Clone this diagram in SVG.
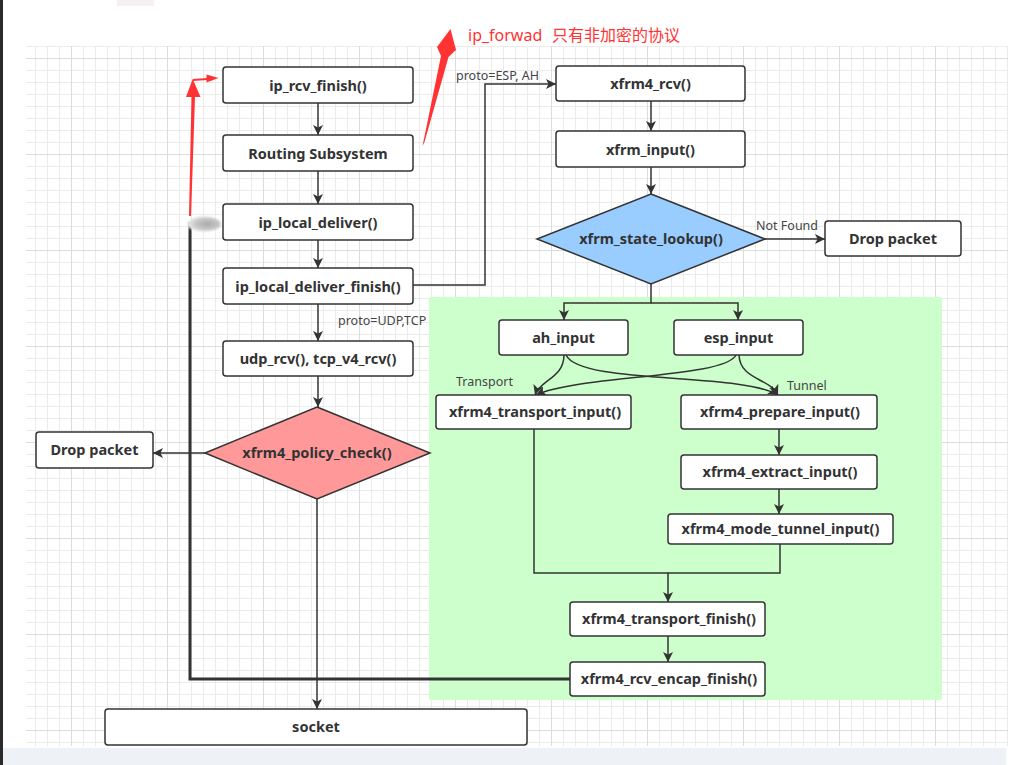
<svg xmlns="http://www.w3.org/2000/svg" width="1015" height="765" viewBox="0 0 1015 765">
<defs>
<style>
.box{fill:#fff;stroke:#333;stroke-width:1.5}
.t{font-family:"Noto Sans","Open Sans",sans-serif;font-weight:bold;font-size:14.5px;fill:#333;text-anchor:middle}
.lbl{font-family:"Noto Sans","Open Sans",sans-serif;font-size:12.5px;fill:#444}
.c{fill:none;stroke:#333;stroke-width:1.5}
.thick{fill:none;stroke:#333;stroke-width:3}
.red{fill:#ff3333}
</style>
<marker id="ah" viewBox="0 0 10 10" refX="10" refY="5" markerWidth="10" markerHeight="10" markerUnits="userSpaceOnUse" orient="auto">
<path d="M0,0 L10,5 L0,10 L2.5,5 Z" fill="#333"/>
</marker>
<pattern id="grid" x="71" y="58" width="96" height="96" patternUnits="userSpaceOnUse">
<path d="M12.5,0V96M24.5,0V96M36.5,0V96M48.5,0V96M60.5,0V96M72.5,0V96M84.5,0V96M0,12.5H96M0,24.5H96M0,36.5H96M0,48.5H96M0,60.5H96M0,72.5H96M0,84.5H96" stroke="#ebebeb" stroke-width="1" fill="none"/>
<path d="M0.5,0V96M0,0.5H96" stroke="#dcdcdc" stroke-width="1" fill="none"/>
</pattern>
<radialGradient id="blob" cx="0.6" cy="0.5" r="0.6">
<stop offset="0" stop-color="#a8a8a8"/>
<stop offset="0.6" stop-color="#c8c8c8"/>
<stop offset="1" stop-color="#eeeeee"/>
</radialGradient>
<filter id="blur" x="-30%" y="-50%" width="160%" height="200%"><feGaussianBlur stdDeviation="1.2"/></filter>
</defs>

<rect width="1015" height="765" fill="#fff"/>
<rect x="26" y="46" width="982" height="700" fill="url(#grid)"/>
<rect x="0" y="748" width="1006" height="17" fill="#eef2f7"/>
<rect x="0" y="0" width="3" height="765" fill="#2b2b2b"/>
<rect x="117" y="0" width="37" height="6" fill="#f6f0f0"/>

<rect id="green-region" x="429" y="297" width="513" height="403" rx="2" fill="#ccffcc"/>

<g id="connectors">
<path class="c" d="M318,103V135" marker-end="url(#ah)"/>
<path class="c" d="M318,171V204" marker-end="url(#ah)"/>
<path class="c" d="M318,240V268" marker-end="url(#ah)"/>
<path class="c" d="M318,304V341" marker-end="url(#ah)"/>
<path class="c" d="M318,376V407" marker-end="url(#ah)"/>
<path class="c" d="M205,453H153" marker-end="url(#ah)"/>
<path class="c" d="M413,285H485V84H556" marker-end="url(#ah)"/>
<path class="c" d="M651,101V131" marker-end="url(#ah)"/>
<path class="c" d="M651,167V194" marker-end="url(#ah)"/>
<path class="c" d="M765,239H825" marker-end="url(#ah)"/>
<path class="c" d="M651,284V303H564V320" marker-end="url(#ah)"/>
<path class="c" d="M651,303H738V320" marker-end="url(#ah)"/>
<path class="c" d="M564,355C564,378 540,380 535,395" marker-end="url(#ah)"/>
<path class="c" d="M566,355C580,385 740,372 778,395" marker-end="url(#ah)"/>
<path class="c" d="M736,355C725,378 580,375 536,395" marker-end="url(#ah)"/>
<path class="c" d="M739,355C740,380 770,378 778,395" marker-end="url(#ah)"/>
<path class="c" d="M779,429V455" marker-end="url(#ah)"/>
<path class="c" d="M779,489V514" marker-end="url(#ah)"/>
<path class="c" d="M534,429V573H668"/>
<path class="c" d="M780,544V573H668V602" marker-end="url(#ah)"/>
<path class="c" d="M668,636V662" marker-end="url(#ah)"/>
<path class="thick" d="M570,679H190V222"/>
<path class="c" d="M317,499V709" marker-end="url(#ah)"/>
<text class="lbl" x="338" y="325">proto=UDP,TCP</text>
<text class="lbl" x="456" y="80">proto=ESP, AH</text>
<text class="lbl" x="756" y="230">Not Found</text>
<text class="lbl" x="456" y="386">Transport</text>
<text class="lbl" x="787" y="390">Tunnel</text>
</g>

<g id="ip_rcv_finish"><rect class="box" x="223" y="67" width="190" height="36" rx="3"/><text class="t" x="318" y="90.5">ip_rcv_finish()</text></g>
<g id="routing_subsystem"><rect class="box" x="223" y="135" width="190" height="36" rx="3"/><text class="t" x="318" y="158.5">Routing Subsystem</text></g>
<g id="ip_local_deliver"><rect class="box" x="223" y="204" width="190" height="36" rx="3"/><text class="t" x="318" y="227.5">ip_local_deliver()</text></g>
<g id="ip_local_deliver_finish"><rect class="box" x="223" y="268" width="190" height="36" rx="3"/><text class="t" x="318" y="291.5">ip_local_deliver_finish()</text></g>
<g id="udp_tcp_rcv"><rect class="box" x="223" y="341" width="190" height="35" rx="3"/><text class="t" x="318" y="364">udp_rcv(), tcp_v4_rcv()</text></g>
<g id="xfrm4_policy_check"><polygon points="317,407 430,453 317,499 205,453" fill="#ff9999" stroke="#333" stroke-width="1.5"/><text class="t" x="317" y="458">xfrm4_policy_check()</text></g>
<g id="drop_packet_left"><rect class="box" x="36" y="432" width="117" height="36" rx="3"/><text class="t" x="94.5" y="455">Drop packet</text></g>
<g id="socket"><rect class="box" x="105" y="709" width="422" height="36" rx="3"/><text class="t" x="316" y="732">socket</text></g>
<g id="xfrm4_rcv"><rect class="box" x="556" y="66" width="189" height="35" rx="3"/><text class="t" x="650.5" y="89">xfrm4_rcv()</text></g>
<g id="xfrm_input"><rect class="box" x="556" y="131" width="189" height="36" rx="3"/><text class="t" x="650.5" y="154.5">xfrm_input()</text></g>
<g id="xfrm_state_lookup"><polygon points="651,194 765,239 651,284 537,239" fill="#99ccff" stroke="#333" stroke-width="1.5"/><text class="t" x="651" y="244">xfrm_state_lookup()</text></g>
<g id="drop_packet_right"><rect class="box" x="825" y="221" width="136" height="35" rx="3"/><text class="t" x="893" y="244">Drop packet</text></g>
<g id="ah_input"><rect class="box" x="499" y="320" width="129" height="35" rx="3"/><text class="t" x="563.5" y="343">ah_input</text></g>
<g id="esp_input"><rect class="box" x="674" y="320" width="129" height="35" rx="3"/><text class="t" x="738.5" y="343">esp_input</text></g>
<g id="xfrm4_transport_input"><rect class="box" x="436" y="395" width="195" height="34" rx="3"/><text class="t" x="535" y="417">xfrm4_transport_input()</text></g>
<g id="xfrm4_prepare_input"><rect class="box" x="681" y="395" width="196" height="34" rx="3"/><text class="t" x="780" y="417">xfrm4_prepare_input()</text></g>
<g id="xfrm4_extract_input"><rect class="box" x="681" y="455" width="196" height="34" rx="3"/><text class="t" x="780" y="477">xfrm4_extract_input()</text></g>
<g id="xfrm4_mode_tunnel_input"><rect class="box" x="668" y="514" width="225" height="30" rx="3"/><text class="t" x="780.5" y="534">xfrm4_mode_tunnel_input()</text></g>
<g id="xfrm4_transport_finish"><rect class="box" x="570" y="602" width="195" height="34" rx="3"/><text class="t" x="669" y="624">xfrm4_transport_finish()</text></g>
<g id="xfrm4_rcv_encap_finish"><rect class="box" x="570" y="662" width="195" height="34" rx="3"/><text class="t" x="669" y="684">xfrm4_rcv_encap_finish()</text></g>

<g id="annotations">
<ellipse cx="204" cy="224" rx="17" ry="7.5" fill="url(#blob)" filter="url(#blur)"/>
<polygon class="red" points="189,216 191,216 195,97 200.5,97 192.7,79 186,97 191.5,97"/>
<path d="M193,80L207,79" stroke="#ff3333" stroke-width="1.8"/>
<polygon class="red" points="206.5,74.5 218.5,78 206.5,82.5"/>
<polygon class="red" points="422.5,146 441,56 437,47 450.5,29 456,50 448.5,57 424.5,142"/>
<text x="468" y="41" font-family="'Noto Sans','Noto Sans CJK SC',sans-serif" font-size="16" fill="#ff3333">ip_forwad<tspan x="552" font-family="'Noto Sans CJK SC',sans-serif" font-size="16">只有非加密的协议</tspan></text>
</g>
</svg>
